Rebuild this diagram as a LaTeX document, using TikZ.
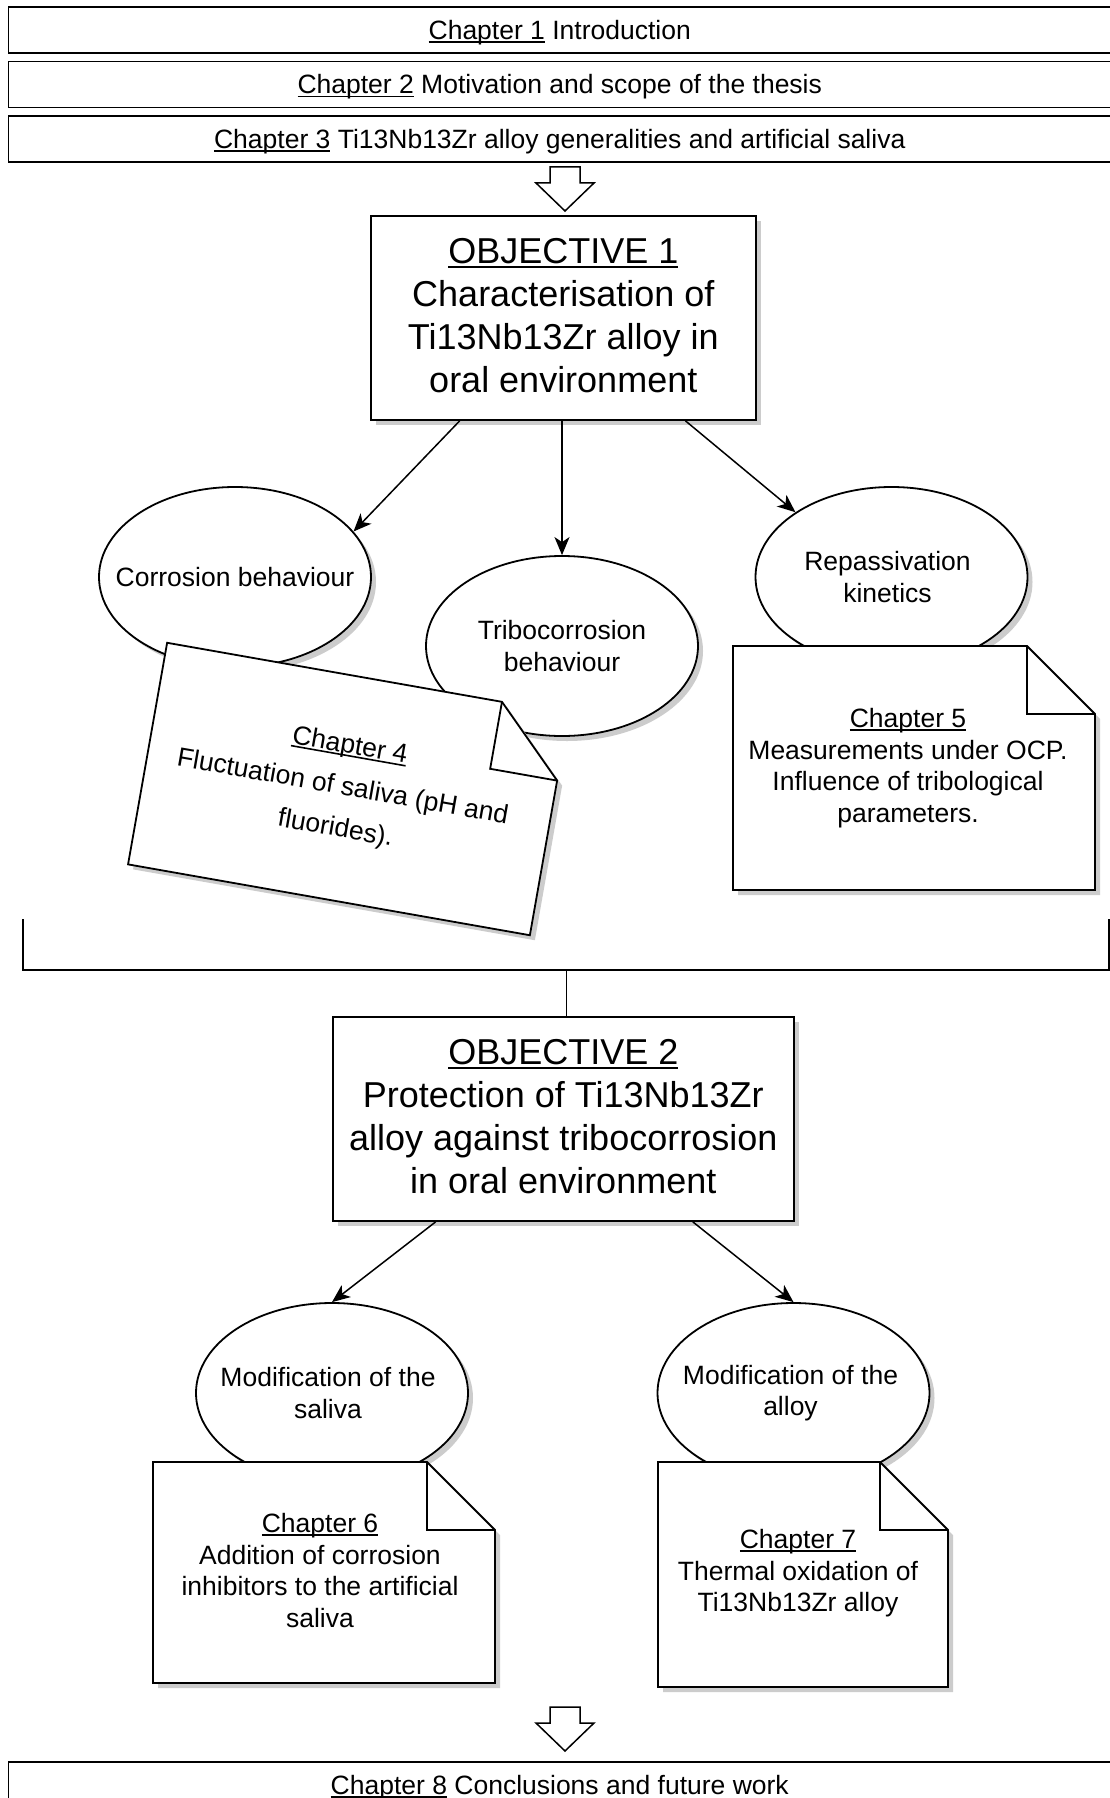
\documentclass[tikz,border=0pt]{standalone}
\usepackage{fontspec}
\setmainfont{Liberation Sans}
\usetikzlibrary{arrows.meta,shapes.geometric,shadows,calc}
\newcommand{\mynote}[5]{%
  \path[notepath] (#1,#2) -- ({#3-#5},#2) -- (#3,{#2+#5}) -- (#3,#4) -- (#1,#4) -- cycle;
  \draw[line width=1.8pt, line join=miter] ({#3-#5},#2) -- ({#3-#5},{#2+#5}) -- (#3,{#2+#5});
}
\newcommand{\myul}[1]{\setbox0\hbox{#1}\rlap{\rule[-0.12em]{\wd0}{0.06em}}\box0\relax}
\begin{document}
\begin{tikzpicture}[x=1pt,y=-1pt,
  shad/.style={drop shadow={shadow xshift=5pt, shadow yshift=-5pt, fill=black!20, opacity=1}},
  chap/.style={draw, line width=1.8pt, minimum width=1102.5pt, minimum height=46pt, inner sep=0pt, text height=24pt, text depth=5pt, font=\fontsize{26.5}{31.5}\selectfont},
  objbox/.style={draw, fill=white, line width=1.8pt, minimum height=204pt, inner sep=0pt, shad},
  objtext/.style={align=center, inner sep=0pt, font=\fontsize{36}{43}\selectfont},
  oval/.style={ellipse, draw, fill=white, line width=1.8pt, minimum width=272pt, minimum height=180pt, inner sep=0pt, shad},
  ovaltext/.style={align=center, inner sep=0pt, font=\fontsize{26.5}{31.5}\selectfont},
  notepath/.style={draw, fill=white, line width=1.8pt, line join=miter, shad},
  notetext/.style={align=center, inner sep=0pt, font=\fontsize{26.5}{31.5}\selectfont},
  conn/.style={line width=1.5pt, -{Stealth[length=18pt,width=15pt,inset=5pt]}},
  blockarrow/.style={draw, fill=white, line width=1.5pt, line join=miter},
]
\useasboundingbox (0,0) rectangle (1110,1798);
\fill[white] (0,0) rectangle (1110,1798);
\clip (0,0) rectangle (1110,1798);

% top chapter boxes
\node[chap] (ch1) at (559.75,30.3) {\myul{Chapter 1} Introduction};
\node[chap] (ch2) at (559.75,84.5) {\myul{Chapter 2} Motivation and scope of the thesis};
\node[chap] (ch3) at (559.75,139) {\myul{Chapter 3} Ti13Nb13Zr alloy generalities and artificial saliva};

% block arrow 1
\coordinate (ba1) at (565,167);
\begin{scope}[shift={(ba1)}]
  \draw[blockarrow] (-15,0) -- (15,0) -- (15,16) -- (29,16) -- (0,44) -- (-29,16) -- (-15,16) -- cycle;
\end{scope}

% objective 1
\node[objbox, minimum width=385pt] (obj1) at (563.3,318) {};
\node[objtext] (obj1t) at ($(obj1)+(0,-2.5)$)
  {\myul{OBJECTIVE 1}\\Characterisation of\\Ti13Nb13Zr alloy in\\oral environment};

% ellipses level 1
\node[oval] (corr) at (235,577) {};
\node[ovaltext] (corrt) at (corr) {Corrosion behaviour};
\node[oval] (tribo) at (562,646) {};
\node[ovaltext] (tribot) at (tribo) {Tribocorrosion\\behaviour};
\node[oval] (repass) at (891.5,577) {};
\node[ovaltext] (repasst) at ($(repass)+(-4,0)$) {Repassivation\\kinetics};

\draw[conn] ($(obj1.south west)!0.232!(obj1.south east)$) -- (corr.21);
\draw[conn] (tribo.north |- obj1.south) -- (tribo.north);
\draw[conn] ($(obj1.south west)!0.816!(obj1.south east)$) -- (repass.146);

% chapter 4 note (rotated)
\begin{scope}[shift={(348.5,789)}, rotate=-10]
  \mynote{-204}{-112.5}{204}{112.5}{68}
  \node[notetext, rotate=-10, font=\fontsize{26.5}{42}\selectfont] (n4) at (-6,0)
    {\myul{Chapter 4}\\Fluctuation of saliva (pH and\\fluorides).};
\end{scope}

% chapter 5 note
\mynote{733}{646}{1095}{890}{68}
\node[notetext] (n5) at (908,768)
  {\myul{Chapter 5}\\Measurements under OCP.\\Influence of tribological\\parameters.};

% bracket
\coordinate (brL) at (23,919);
\coordinate (brLB) at (23,970);
\coordinate (brRB) at (1109,970);
\coordinate (brR) at (1109,919);
\coordinate (brM) at (566,970);
\draw[line width=1.8pt, line join=miter] (brL) -- (brLB) -- (brRB) -- (brR);

% objective 2
\node[objbox, minimum width=461pt] (obj2) at (563.3,1119) {};
\node[objtext] (obj2t) at ($(obj2)+(0,-2.5)$)
  {\myul{OBJECTIVE 2}\\Protection of Ti13Nb13Zr\\alloy against tribocorrosion\\in oral environment};
\draw[line width=1pt] (brM) -- (brM |- obj2.north);

% ellipses level 2
\node[oval] (saliva) at (332,1393) {};
\node[ovaltext] (salivat) at ($(saliva)+(-4,0)$) {Modification of the\\saliva};
\node[oval] (alloy) at (793.5,1393) {};
\node[ovaltext] (alloyt) at ($(alloy)+(-3,0)$) {Modification of the\\alloy};

\draw[conn] ($(obj2.south west)!0.224!(obj2.south east)$) -- (saliva.north);
\draw[conn] ($(obj2.south west)!0.78!(obj2.south east)$) -- (alloy.north);

% chapter 6 and 7 notes
\mynote{153}{1462}{495}{1683}{68}
\node[notetext] (n6) at (320,1570.5)
  {\myul{Chapter 6}\\Addition of corrosion\\inhibitors to the artificial\\saliva};
\mynote{658}{1462}{948}{1687}{68}
\node[notetext] (n7) at (798,1573.5)
  {\myul{Chapter 7}\\Thermal oxidation of\\Ti13Nb13Zr alloy};

% block arrow 2
\coordinate (ba2) at (565,1707);
\begin{scope}[shift={(ba2)}]
  \draw[blockarrow] (-15,0) -- (15,0) -- (15,16) -- (29,16) -- (0,44) -- (-29,16) -- (-15,16) -- cycle;
\end{scope}

% chapter 8
\node[chap] (ch8) at (559.75,1785) {\myul{Chapter 8} Conclusions and future work};
\end{tikzpicture}
\end{document}
